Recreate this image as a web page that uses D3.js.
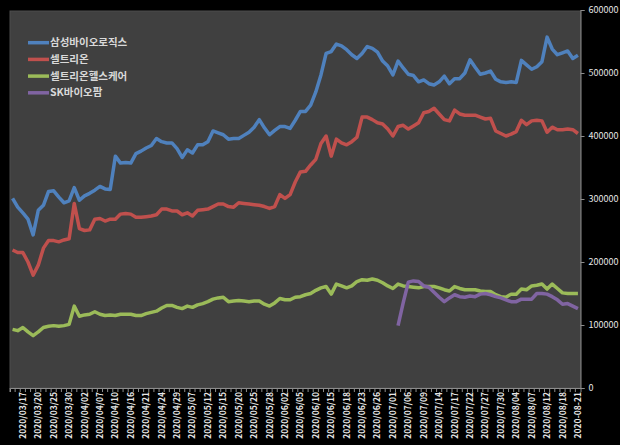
<!DOCTYPE html>
<html>
<head>
<meta charset="utf-8">
<script src="https://cdn.jsdelivr.net/npm/d3@7"></script>
<style>
  body { margin: 0; background: #000; }
  svg { display: block; }
</style>
</head>
<body>
<div id="chart"></div>
<script>
const dates = [
  "2020/03/13", "2020/03/16", "2020/03/17", "2020/03/18", "2020/03/19", "2020/03/20", "2020/03/23", "2020/03/24",
  "2020/03/25", "2020/03/26", "2020/03/27", "2020/03/30", "2020/03/31",
  "2020/04/01", "2020/04/02", "2020/04/03", "2020/04/06", "2020/04/07", "2020/04/08", "2020/04/09", "2020/04/10",
  "2020/04/13", "2020/04/14", "2020/04/16", "2020/04/17", "2020/04/20", "2020/04/21", "2020/04/22", "2020/04/23",
  "2020/04/24", "2020/04/27", "2020/04/28", "2020/04/29",
  "2020/05/04", "2020/05/06", "2020/05/07", "2020/05/08", "2020/05/11", "2020/05/12", "2020/05/13", "2020/05/14",
  "2020/05/15", "2020/05/18", "2020/05/19", "2020/05/20", "2020/05/21", "2020/05/22", "2020/05/25", "2020/05/26",
  "2020/05/27", "2020/05/28", "2020/05/29",
  "2020/06/01", "2020/06/02", "2020/06/03", "2020/06/04", "2020/06/05", "2020/06/08", "2020/06/09", "2020/06/10",
  "2020/06/11", "2020/06/12", "2020/06/15", "2020/06/16", "2020/06/17", "2020/06/18", "2020/06/19", "2020/06/22",
  "2020/06/23", "2020/06/24", "2020/06/25", "2020/06/26", "2020/06/29", "2020/06/30",
  "2020/07/01", "2020/07/02", "2020/07/03", "2020/07/06", "2020/07/07", "2020/07/08", "2020/07/09", "2020/07/10",
  "2020/07/13", "2020/07/14", "2020/07/15", "2020/07/16", "2020/07/17", "2020/07/20", "2020/07/21", "2020/07/22",
  "2020/07/23", "2020/07/24", "2020/07/27", "2020/07/28", "2020/07/29", "2020/07/30", "2020/07/31",
  "2020/08/03", "2020/08/04", "2020/08/05", "2020/08/06", "2020/08/07", "2020/08/10", "2020/08/11", "2020/08/12",
  "2020/08/13", "2020/08/14", "2020/08/18", "2020/08/19", "2020/08/20", "2020-08-21"
]

const samsungBio = [
  301000, 287000, 278000, 268000, 243000, 282000, 290000, 312000, 313000, 303000,
  294000, 297000, 318000, 298000, 305000, 309000, 314000, 320000, 316000, 315000,
  368000, 357000, 358000, 357000, 372000, 376000, 381000, 385000, 396000, 391000,
  389000, 389000, 380000, 366000, 378000, 373000, 386000, 386000, 391000, 408000,
  405000, 402000, 395000, 396000, 396000, 401000, 406000, 414000, 426000, 413000,
  402000, 409000, 415000, 415000, 412000, 425000, 439000, 439000, 449000, 470000,
  497000, 531000, 534000, 546000, 543000, 537000, 529000, 523000, 531000, 542000,
  539000, 533000, 519000, 511000, 497000, 519000, 508000, 498000, 496000, 486000,
  489000, 483000, 481000, 486000, 495000, 483000, 491000, 491000, 500000, 521000,
  509000, 498000, 500000, 503000, 490000, 486000, 485000, 486000, 485000, 520000,
  513000, 506000, 510000, 518000, 557000, 538000, 529000, 532000, 535000, 523000,
  528000
]

const celltrion = [
  219000, 215000, 215000, 200000, 179000, 195000, 222000, 234000, 234000, 232000,
  235000, 237000, 293000, 253000, 250000, 251000, 268000, 269000, 265000, 268000,
  268000, 276000, 277000, 276000, 271000, 271000, 272000, 273000, 275000, 284000,
  284000, 281000, 281000, 275000, 278000, 273000, 282000, 283000, 284000, 288000,
  292000, 292000, 288000, 287000, 294000, 293000, 292000, 291000, 290000, 288000,
  285000, 288000, 307000, 301000, 307000, 327000, 343000, 344000, 354000, 363000,
  388000, 400000, 368000, 395000, 389000, 386000, 391000, 398000, 430000, 430000,
  426000, 421000, 419000, 411000, 400000, 415000, 417000, 411000, 416000, 421000,
  437000, 439000, 444000, 435000, 426000, 424000, 441000, 435000, 433000, 433000,
  433000, 430000, 427000, 428000, 408000, 404000, 400000, 403000, 407000, 425000,
  418000, 424000, 425000, 424000, 406000, 414000, 410000, 410000, 411000, 410000,
  404000
]

const celltrionHealth = [
  93000, 91000, 96000, 89000, 83000, 89000, 96000, 98000, 99000, 98000,
  99000, 101000, 130000, 114000, 116000, 117000, 121000, 117000, 115000, 116000,
  115000, 117000, 117000, 117000, 115000, 115000, 118000, 120000, 122000, 127000,
  131000, 131000, 128000, 126000, 130000, 128000, 132000, 134000, 137000, 141000,
  143000, 144000, 137000, 138000, 139000, 138000, 137000, 138000, 138000, 133000,
  130000, 135000, 142000, 140000, 140000, 144000, 145000, 148000, 150000, 155000,
  159000, 161000, 149000, 165000, 162000, 159000, 162000, 169000, 172000, 171000,
  173000, 171000, 167000, 162000, 158000, 165000, 162000, 161000, 160000, 159000,
  161000, 161000, 161000, 159000, 156000, 154000, 161000, 158000, 156000, 156000,
  156000, 154000, 153000, 153000, 148000, 145000, 144000, 149000, 149000, 157000,
  156000, 162000, 163000, 165000, 157000, 165000, 158000, 151000, 150000, 150000,
  150000
]

// listed on 2020/07/02, no values before that
const skBiopharm = new Array(75).fill(null).concat([
  99000, 135000, 168000, 170000, 169000, 162000, 160000, 152000, 144000, 137000,
  143000, 148000, 145000, 144000, 146000, 145000, 149000, 150000, 148000, 145000,
  143000, 140000, 137000, 137000, 141000, 141000, 141000, 150000, 150000, 149000,
  145000, 140000, 133000, 134000, 130000, 126000
])

const seriesNames = ["삼성바이오로직스", "셀트리온", "셀트리온헬스케어", "SK바이오팜"]
const seriesColors = ["#4F81BD", "#C0504D", "#9BBB59", "#8064A2"]
const seriesValues = [samsungBio, celltrion, celltrionHealth, skBiopharm]
const yTicks = [0, 100000, 200000, 300000, 400000, 500000, 600000]

const width = 620, height = 445
const plot = { left: 10, right: 580.5, top: 11, bottom: 388 }

const svg = d3.select("#chart").append("svg")
    .attr("width", width)
    .attr("height", height)

svg.append("rect")
    .attr("width", width)
    .attr("height", height)
    .attr("fill", "#000")

svg.append("rect")
    .attr("x", plot.left)
    .attr("y", plot.top)
    .attr("width", plot.right - plot.left)
    .attr("height", plot.bottom - plot.top)
    .attr("fill", "#404040")
    .attr("stroke", "#4d4d4d")

const x = d3.scaleBand()
    .domain(dates)
    .range([plot.left, plot.right])

const y = d3.scaleLinear()
    .domain([0, 600000])
    .range([plot.bottom, 10])

const cx = d => x(d) + x.bandwidth() / 2

// bottom category axis: ticks at category boundaries, label every 3rd from the end
const xAxis = svg.append("g")
    .attr("transform", "translate(0," + plot.bottom + ")")
    .call(d3.axisBottom(x).tickSize(4).tickFormat(""))

xAxis.select(".domain").attr("stroke", "#8c8c8c")
xAxis.selectAll(".tick")
    .attr("transform", d => "translate(" + x(d) + ",0)")
xAxis.selectAll(".tick line").attr("stroke", "#8c8c8c")

svg.append("g").selectAll("text")
    .data(dates.filter((d, i) => (dates.length - 1 - i) % 3 === 0))
    .join("text")
    .attr("transform", d => "translate(" + (cx(d) + 3) + ",392) rotate(-90)")
    .attr("text-anchor", "end")
    .attr("font-family", "'Noto Sans CJK KR', 'Noto Sans', sans-serif")
    .attr("font-size", 8.5)
    .attr("font-weight", "bold")
    .attr("fill", "#e6e6e6")
    .text(d => d)

// right value axis
const yAxis = svg.append("g")
    .attr("transform", "translate(" + plot.right + ",0)")
    .call(d3.axisRight(y).tickValues(yTicks).tickSize(4).tickPadding(4).tickFormat(d3.format("d")))

yAxis.select(".domain").attr("stroke", "#8c8c8c")
yAxis.selectAll(".tick line").attr("stroke", "#8c8c8c")
yAxis.selectAll(".tick text")
    .attr("fill", "#e6e6e6")
    .attr("font-family", "'Noto Sans CJK KR', 'Noto Sans', sans-serif")
    .attr("font-size", 9)

const line = d3.line()
    .defined(d => d[1] !== null)
    .x(d => cx(d[0]))
    .y(d => y(d[1]))

seriesValues.forEach((vals, k) => {
    svg.append("path")
        .datum(dates.map((d, i) => [d, vals[i]]))
        .attr("fill", "none")
        .attr("stroke", seriesColors[k])
        .attr("stroke-width", 3.5)
        .attr("stroke-linejoin", "round")
        .attr("d", line)
})

// legend
const legend = svg.append("g").selectAll("g")
    .data(seriesNames)
    .join("g")
    .attr("transform", (d, i) => "translate(28," + (42.7 + i * 16.7) + ")")

legend.append("line")
    .attr("x1", 0)
    .attr("x2", 21)
    .attr("stroke", (d, i) => seriesColors[i])
    .attr("stroke-width", 3.5)

legend.append("text")
    .attr("x", 22)
    .attr("dy", "0.35em")
    .attr("font-family", "'Noto Sans CJK KR', sans-serif")
    .attr("font-size", 10.5)
    .attr("font-weight", "bold")
    .attr("fill", "#d9d9d9")
    .text(d => d)
</script>
</body>
</html>
